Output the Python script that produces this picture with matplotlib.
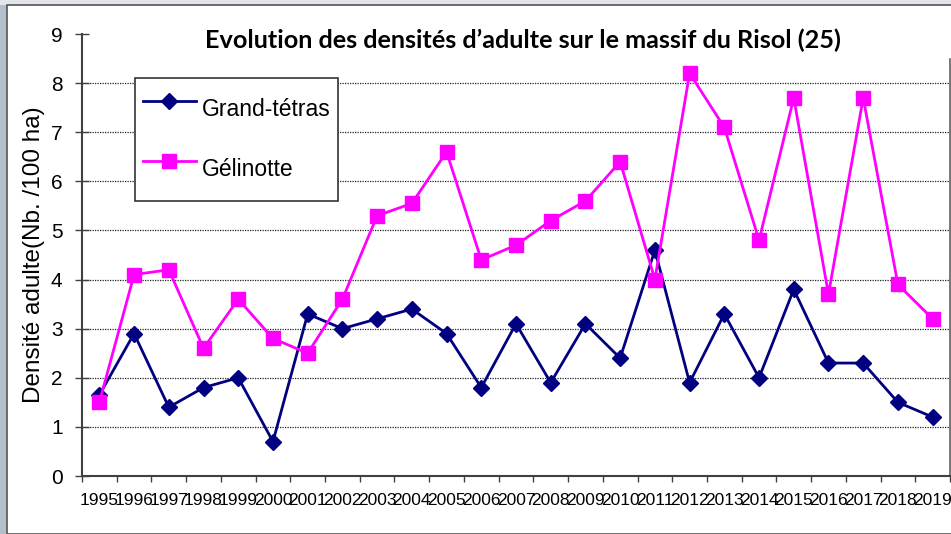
import numpy as np
import matplotlib.pyplot as plt
from matplotlib.patches import Rectangle

years = [str(y) for y in range(1995, 2020)]
grand_tetras = [1.65, 2.9, 1.4, 1.8, 2.0, 0.7, 3.3, 3.0, 3.2, 3.4, 2.9, 1.8, 3.1,
                1.9, 3.1, 2.4, 4.6, 1.9, 3.3, 2.0, 3.8, 2.3, 2.3, 1.5, 1.2]
gelinotte = [1.5, 4.1, 4.2, 2.6, 3.6, 2.8, 2.5, 3.6, 5.3, 5.55, 6.6, 4.4, 4.7,
             5.2, 5.6, 6.4, 4.0, 8.2, 7.1, 4.8, 7.7, 3.7, 7.7, 3.9, 3.2]
yticks = list(range(0, 10))

W, H = 951, 534
fig = plt.figure(figsize=(W / 100, H / 100), dpi=100)
fig.patch.set_facecolor('#c3ccd6')

# screenshot background: grey strips on left/top, white chart panel
fig.add_artist(Rectangle((0, 0), 1, 1, transform=fig.transFigure,
                         facecolor='#e2e6ea', edgecolor='none', zorder=-3))
fig.add_artist(Rectangle((0, 0), 7 / W, 1 - 5 / H, transform=fig.transFigure,
                         facecolor='#b4bfcc', edgecolor='none', zorder=-3))
fig.add_artist(Rectangle((7 / W, 0), 1, 1 - 5 / H, transform=fig.transFigure,
                         facecolor='white', edgecolor='#555555', linewidth=1.2, zorder=-2))

ax = fig.add_axes([82 / W, 1 - 476 / H, (950 - 82) / W, (476 - 34) / H])
ax.set_facecolor('none')

x = np.arange(len(years))
ax.plot(x, grand_tetras, color='#000080', linewidth=2, marker='D', markersize=8,
        label='Grand-tétras', zorder=3)
ax.plot(x, gelinotte, color='#ff00ff', linewidth=2, marker='s', markersize=10,
        label='Gélinotte', zorder=4)

ax.set_xlim(-0.5, len(years) - 0.5)
ax.set_ylim(0, 9)
ax.set_yticks(yticks)
ax.set_xticks(x)
ax.set_xticklabels(years, fontsize=12.5, family='Liberation Sans')
ax.set_xticks(np.arange(-0.5, len(years), 1), minor=True)
ax.tick_params(axis='x', which='major', length=0, pad=12)
ax.tick_params(axis='x', which='minor', length=4, width=1, color='#404040')
ax.tick_params(axis='y', direction='inout', length=10, width=1, color='#404040',
               labelsize=15, pad=9)
for lab in ax.get_yticklabels():
    lab.set_family('Liberation Sans')

for v in yticks[1:-1]:
    ax.axhline(v, color='#222222', linewidth=0.9, linestyle=(0, (1, 1)), zorder=1)

ax.spines['top'].set_visible(False)
ax.spines['left'].set_color('#404040')
ax.spines['left'].set_linewidth(1.5)
ax.spines['bottom'].set_color('#404040')
ax.spines['bottom'].set_linewidth(1.5)
ax.spines['right'].set_color('#606060')
ax.spines['right'].set_linewidth(1.2)
ax.spines['right'].set_bounds(0, 8.5)

ax.set_ylabel('Densité adulte(Nb. /100 ha)', fontsize=17.5, family='Liberation Sans',
              labelpad=4)

fig.text(523 / W, 1 - 40 / H, 'Evolution des densités d’adulte sur le massif du Risol (25)',
         ha='center', va='center', fontsize=18.2, fontweight='bold', family='Lato')

leg = ax.legend(loc='upper left', bbox_to_anchor=((135 - 82) / (950 - 82), (476 - 78) / (476 - 34)),
                prop={'family': 'Liberation Sans', 'size': 16.5}, frameon=True, fancybox=False,
                edgecolor='#333333', framealpha=1, labelspacing=0.6, handlelength=2.3,
                handleheight=2.75, handletextpad=0.25, borderpad=0.35, borderaxespad=0)
leg.get_frame().set_linewidth(1.2)

fig.savefig('out.png', dpi=100)
